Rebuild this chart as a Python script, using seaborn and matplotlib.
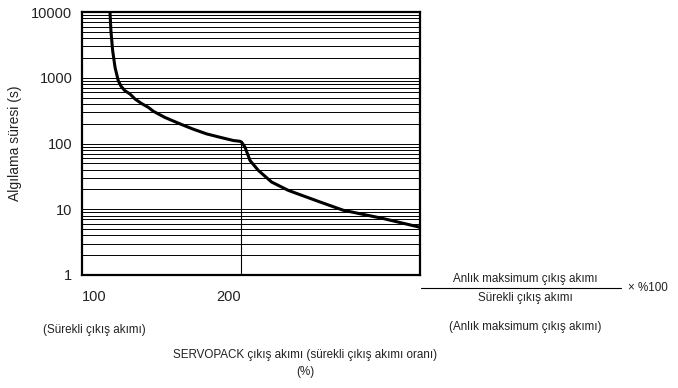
import matplotlib
matplotlib.use("Agg")
import matplotlib.pyplot as plt
import seaborn as sns
import numpy as np
import pandas as pd

# Data
curve_x = [117.6, 118.2, 119.3, 120.8, 122.8, 124.6, 127.0, 130.2, 133.3, 137.5, 141.7,
           144.8, 152.0, 161.6, 170.0, 178.4, 187.0, 195.2, 199.4, 200.4, 202.5,
           205.7, 210.9, 219.3, 229.7, 238.2, 249.7, 264.3, 289.5, 311.5, 312.6]
curve_y = [10000, 5150, 2565, 1432, 901, 740, 635, 566, 476, 405, 355,
           310, 250, 199, 165, 140, 124, 111, 108, 104.7, 88,
           55, 39, 25.9, 19.4, 16.3, 12.9, 9.66, 7.22, 5.4, 5.26]
marker_x = [200, 200]
marker_y = [1, 105]
y_ticks = [1, 10, 100, 1000, 10000]
y_ticklabels = ["1", "10", "100", "1000", "10000"]
x_ticks = [100, 200]
x_ticklabels = ["100", "200"]

sns.set_theme(style="white")
plt.rcParams['font.family'] = ['Liberation Sans', 'DejaVu Sans']
TXT = "#222222"

fig = plt.figure(figsize=(6.78, 3.88), dpi=100)
ax = fig.add_axes([82/678, 1-275/388, (420-82)/678, (275-12)/388])

df = pd.DataFrame({"x": curve_x, "y": curve_y})
sns.lineplot(data=df, x="x", y="y", ax=ax, color="black", lw=2.2,
             sort=False, estimator=None, zorder=5)
ax.lines[-1].set_solid_joinstyle("round")
ax.plot(marker_x, marker_y, color="black", lw=0.8, zorder=4)

ax.set_yscale("log")
ax.set_ylim(1, 10000)
ax.set_xlim(100, 312.6)

ax.set_yticks(y_ticks)
ax.set_yticklabels(y_ticklabels)
ax.yaxis.set_minor_locator(matplotlib.ticker.LogLocator(base=10, subs=np.arange(2, 10)))
ax.yaxis.set_minor_formatter(matplotlib.ticker.NullFormatter())
ax.grid(True, which="both", axis="y", color="black", lw=0.7)
ax.grid(False, axis="x")
ax.tick_params(axis="y", which="both", length=0, pad=7, labelsize=10.5, labelcolor=TXT)

ax.set_xticks(x_ticks)
ax.set_xticklabels(x_ticklabels)
ax.tick_params(axis="x", length=0, pad=11, labelsize=10.5, labelcolor=TXT)
lbls = ax.get_xticklabels()
lbls[0].set_ha("left")
lbls[1].set_ha("right")

for s in ax.spines.values():
    s.set_visible(True)
    s.set_color("black")
    s.set_linewidth(1.6)

ax.set_xlabel("")
ax.set_ylabel("")
fig.text(15/678, 1-143/388, "Algılama süresi (s)", rotation=90, ha="center", va="center",
         fontsize=10, color=TXT)

fs = 8.4
fig.text(94/678, 1-330/388, "(Sürekli çıkış akımı)", ha="center", va="center", fontsize=fs, color=TXT)
fig.text(305/678, 1-355/388, "SERVOPACK çıkış akımı (sürekli çıkış akımı oranı)", ha="center", va="center", fontsize=fs, color=TXT)
fig.text(305/678, 1-372/388, "(%)", ha="center", va="center", fontsize=fs, color=TXT)

fig.text(525/678, 1-279/388, "Anlık maksimum çıkış akımı", ha="center", va="center", fontsize=fs, color=TXT)
fig.add_artist(matplotlib.lines.Line2D([421/678, 621/678], [1-288/388, 1-288/388], color="black", lw=0.8))
fig.text(525/678, 1-298/388, "Sürekli çıkış akımı", ha="center", va="center", fontsize=fs, color=TXT)
fig.text(628/678, 1-288/388, "× %100", ha="left", va="center", fontsize=fs, color=TXT)
fig.text(525/678, 1-327/388, "(Anlık maksimum çıkış akımı)", ha="center", va="center", fontsize=fs, color=TXT)

fig.savefig("out.png", dpi=100)
